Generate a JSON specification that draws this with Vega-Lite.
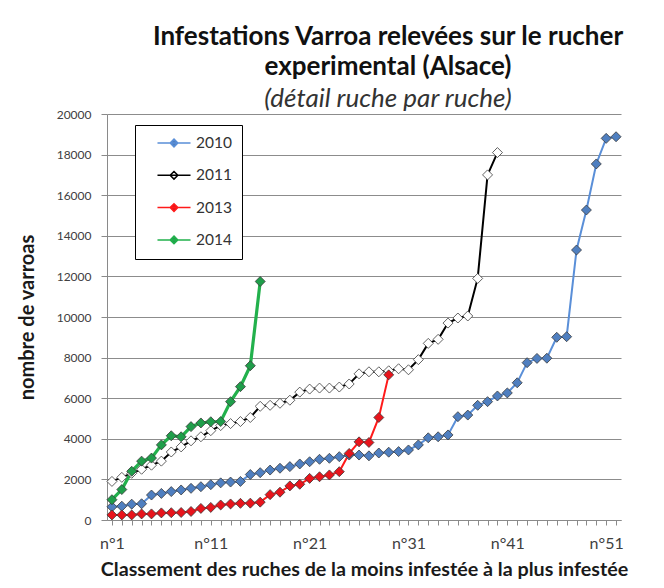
{
  "$schema": "https://vega.github.io/schema/vega-lite/v6.json",
  "width": 514,
  "height": 406,
  "autosize": {"type": "none"},
  "padding": {"left": 107, "top": 114, "right": 43, "bottom": 68},
  "background": "white",
  "config": {
    "view": {"stroke": null},
    "font": "Lato"
  },
  "title": {
    "text": ["Infestations Varroa relevées sur le rucher", "experimental (Alsace)"],
    "subtitle": "(détail ruche par ruche)",
    "font": "Lato",
    "fontSize": 26,
    "fontWeight": "bold",
    "color": "#111111",
    "lineHeight": 30,
    "subtitleFont": "Lato",
    "subtitleFontSize": 26,
    "subtitleFontStyle": "italic",
    "subtitleColor": "#333333",
    "subtitlePadding": 6,
    "anchor": "middle",
    "dx": 24,
    "offset": -4
  },
  "data": {
    "values": [
      {"annee":"2010","ruche":1,"varroas":650},{"annee":"2010","ruche":2,"varroas":680},{"annee":"2010","ruche":3,"varroas":780},{"annee":"2010","ruche":4,"varroas":800},{"annee":"2010","ruche":5,"varroas":1230},{"annee":"2010","ruche":6,"varroas":1310},{"annee":"2010","ruche":7,"varroas":1400},{"annee":"2010","ruche":8,"varroas":1480},{"annee":"2010","ruche":9,"varroas":1560},{"annee":"2010","ruche":10,"varroas":1640},
      {"annee":"2010","ruche":11,"varroas":1740},{"annee":"2010","ruche":12,"varroas":1830},{"annee":"2010","ruche":13,"varroas":1870},{"annee":"2010","ruche":14,"varroas":1900},{"annee":"2010","ruche":15,"varroas":2240},{"annee":"2010","ruche":16,"varroas":2330},{"annee":"2010","ruche":17,"varroas":2460},{"annee":"2010","ruche":18,"varroas":2550},{"annee":"2010","ruche":19,"varroas":2630},{"annee":"2010","ruche":20,"varroas":2760},
      {"annee":"2010","ruche":21,"varroas":2870},{"annee":"2010","ruche":22,"varroas":2990},{"annee":"2010","ruche":23,"varroas":3040},{"annee":"2010","ruche":24,"varroas":3120},{"annee":"2010","ruche":25,"varroas":3200},{"annee":"2010","ruche":26,"varroas":3200},{"annee":"2010","ruche":27,"varroas":3160},{"annee":"2010","ruche":28,"varroas":3300},{"annee":"2010","ruche":29,"varroas":3340},{"annee":"2010","ruche":30,"varroas":3370},
      {"annee":"2010","ruche":31,"varroas":3450},{"annee":"2010","ruche":32,"varroas":3700},{"annee":"2010","ruche":33,"varroas":4050},{"annee":"2010","ruche":34,"varroas":4100},{"annee":"2010","ruche":35,"varroas":4190},{"annee":"2010","ruche":36,"varroas":5090},{"annee":"2010","ruche":37,"varroas":5170},{"annee":"2010","ruche":38,"varroas":5650},{"annee":"2010","ruche":39,"varroas":5830},{"annee":"2010","ruche":40,"varroas":6110},
      {"annee":"2010","ruche":41,"varroas":6260},{"annee":"2010","ruche":42,"varroas":6760},{"annee":"2010","ruche":43,"varroas":7750},{"annee":"2010","ruche":44,"varroas":7960},{"annee":"2010","ruche":45,"varroas":7970},{"annee":"2010","ruche":46,"varroas":9000},{"annee":"2010","ruche":47,"varroas":9030},{"annee":"2010","ruche":48,"varroas":13300},{"annee":"2010","ruche":49,"varroas":15270},{"annee":"2010","ruche":50,"varroas":17540},
      {"annee":"2010","ruche":51,"varroas":18800},{"annee":"2010","ruche":52,"varroas":18880},
      {"annee":"2011","ruche":1,"varroas":1900},{"annee":"2011","ruche":2,"varroas":2100},{"annee":"2011","ruche":3,"varroas":2300},{"annee":"2011","ruche":4,"varroas":2500},{"annee":"2011","ruche":5,"varroas":2700},{"annee":"2011","ruche":6,"varroas":2900},{"annee":"2011","ruche":7,"varroas":3350},{"annee":"2011","ruche":8,"varroas":3600},{"annee":"2011","ruche":9,"varroas":3900},{"annee":"2011","ruche":10,"varroas":4100},
      {"annee":"2011","ruche":11,"varroas":4400},{"annee":"2011","ruche":12,"varroas":4650},{"annee":"2011","ruche":13,"varroas":4750},{"annee":"2011","ruche":14,"varroas":4850},{"annee":"2011","ruche":15,"varroas":5050},{"annee":"2011","ruche":16,"varroas":5600},{"annee":"2011","ruche":17,"varroas":5650},{"annee":"2011","ruche":18,"varroas":5750},{"annee":"2011","ruche":19,"varroas":5900},{"annee":"2011","ruche":20,"varroas":6300},
      {"annee":"2011","ruche":21,"varroas":6450},{"annee":"2011","ruche":22,"varroas":6500},{"annee":"2011","ruche":23,"varroas":6500},{"annee":"2011","ruche":24,"varroas":6550},{"annee":"2011","ruche":25,"varroas":6700},{"annee":"2011","ruche":26,"varroas":7200},{"annee":"2011","ruche":27,"varroas":7300},{"annee":"2011","ruche":28,"varroas":7300},{"annee":"2011","ruche":29,"varroas":7350},{"annee":"2011","ruche":30,"varroas":7450},
      {"annee":"2011","ruche":31,"varroas":7400},{"annee":"2011","ruche":32,"varroas":7900},{"annee":"2011","ruche":33,"varroas":8700},{"annee":"2011","ruche":34,"varroas":8900},{"annee":"2011","ruche":35,"varroas":9700},{"annee":"2011","ruche":36,"varroas":9950},{"annee":"2011","ruche":37,"varroas":10050},{"annee":"2011","ruche":38,"varroas":11900},{"annee":"2011","ruche":39,"varroas":17000},{"annee":"2011","ruche":40,"varroas":18100},
      {"annee":"2013","ruche":1,"varroas":250},{"annee":"2013","ruche":2,"varroas":250},{"annee":"2013","ruche":3,"varroas":250},{"annee":"2013","ruche":4,"varroas":300},{"annee":"2013","ruche":5,"varroas":300},{"annee":"2013","ruche":6,"varroas":350},{"annee":"2013","ruche":7,"varroas":360},{"annee":"2013","ruche":8,"varroas":370},{"annee":"2013","ruche":9,"varroas":420},{"annee":"2013","ruche":10,"varroas":570},
      {"annee":"2013","ruche":11,"varroas":620},{"annee":"2013","ruche":12,"varroas":740},{"annee":"2013","ruche":13,"varroas":790},{"annee":"2013","ruche":14,"varroas":820},{"annee":"2013","ruche":15,"varroas":830},{"annee":"2013","ruche":16,"varroas":880},{"annee":"2013","ruche":17,"varroas":1250},{"annee":"2013","ruche":18,"varroas":1370},{"annee":"2013","ruche":19,"varroas":1680},{"annee":"2013","ruche":20,"varroas":1760},
      {"annee":"2013","ruche":21,"varroas":2050},{"annee":"2013","ruche":22,"varroas":2130},{"annee":"2013","ruche":23,"varroas":2220},{"annee":"2013","ruche":24,"varroas":2380},{"annee":"2013","ruche":25,"varroas":3280},{"annee":"2013","ruche":26,"varroas":3850},{"annee":"2013","ruche":27,"varroas":3820},{"annee":"2013","ruche":28,"varroas":5050},{"annee":"2013","ruche":29,"varroas":7150},
      {"annee":"2014","ruche":1,"varroas":1000},{"annee":"2014","ruche":2,"varroas":1500},{"annee":"2014","ruche":3,"varroas":2400},{"annee":"2014","ruche":4,"varroas":2900},{"annee":"2014","ruche":5,"varroas":3050},{"annee":"2014","ruche":6,"varroas":3700},{"annee":"2014","ruche":7,"varroas":4150},{"annee":"2014","ruche":8,"varroas":4100},{"annee":"2014","ruche":9,"varroas":4600},{"annee":"2014","ruche":10,"varroas":4780},
      {"annee":"2014","ruche":11,"varroas":4840},{"annee":"2014","ruche":12,"varroas":4850},{"annee":"2014","ruche":13,"varroas":5830},{"annee":"2014","ruche":14,"varroas":6570},{"annee":"2014","ruche":15,"varroas":7600},{"annee":"2014","ruche":16,"varroas":11750}
    ]
  },
  "encoding": {
    "x": {
      "field": "ruche",
      "type": "quantitative",
      "scale": {"domain": [0.5, 52.5], "nice": false, "zero": false},
      "axis": {
        "title": "Classement des ruches de la moins infestée à la plus infestée",
        "titleFont": "Lato",
        "titleFontSize": 19.7,
        "titleFontWeight": "bold",
        "titleColor": "#1a1a1a",
        "titleY": 49,
        "titleBaseline": "middle",
        "values": [1,2,3,4,5,6,7,8,9,10,11,12,13,14,15,16,17,18,19,20,21,22,23,24,25,26,27,28,29,30,31,32,33,34,35,36,37,38,39,40,41,42,43,44,45,46,47,48,49,50,51,52],
        "labelExpr": "(datum.value - 1) % 10 == 0 ? 'n°' + datum.value : ''",
        "labelOverlap": false,
        "labelFlush": false,
        "labelFont": "Lato",
        "labelFontSize": 16,
        "labelColor": "#404040",
        "labelPadding": 10,
        "tickSize": 5,
        "tickColor": "#8a8a8a",
        "domainColor": "#8a8a8a",
        "grid": false
      }
    },
    "y": {
      "field": "varroas",
      "type": "quantitative",
      "scale": {"domain": [0, 20000], "nice": false},
      "axis": {
        "title": "nombre de varroas",
        "titleFont": "Lato",
        "titleFontSize": 20,
        "titleFontWeight": "bold",
        "titleColor": "#1a1a1a",
        "titleX": -80,
        "titleY": 203,
        "titleBaseline": "middle",
        "titleAlign": "center",
        "values": [0,2000,4000,6000,8000,10000,12000,14000,16000,18000,20000],
        "format": "d",
        "labelFont": "Lato",
        "labelFontSize": 12,
        "labelColor": "#404040",
        "labelPadding": 10,
        "tickSize": 6,
        "tickColor": "#8a8a8a",
        "domainColor": "#8a8a8a",
        "grid": true,
        "gridColor": "#8c8c8c",
        "gridWidth": 1.2
      }
    }
  },
  "layer": [
    {
      "transform": [{"filter": "datum.annee != '2014'"}],
      "mark": {"type": "line", "strokeWidth": 2},
      "encoding": {
        "stroke": {
          "field": "annee",
          "type": "nominal",
          "scale": {"domain": ["2010","2011","2013","2014"], "range": ["#5a8fd8","#000000","#ff1a1a","#22b14c"]},
          "legend": {
            "title": null,
            "orient": "none",
            "legendX": 28,
            "legendY": 11,
            "padding": 10,
            "strokeColor": "#000000",
            "fillColor": "#ffffff",
            "symbolType": "M-2.36,0L2.36,0M0,-0.55L0.55,0L0,0.55L-0.55,0Z",
            "symbolSize": 196,
            "symbolOffset": 21,
            "labelOffset": 14,
            "labelFont": "Lato",
            "labelFontSize": 15.5,
            "labelColor": "#333333",
            "labelExpr": "datum.label + '\u00a0\u00a0\u00a0'",
            "rowPadding": 15.3
          }
        }
      }
    },
    {
      "transform": [{"filter": "datum.annee == '2014'"}],
      "mark": {"type": "line", "strokeWidth": 3.2},
      "encoding": {
        "stroke": {"field": "annee", "type": "nominal"}
      }
    },
    {
      "mark": {"type": "point", "shape": "diamond", "filled": true, "size": 100, "stroke": "#3a3a3a", "strokeWidth": 0.8, "opacity": 1},
      "encoding": {
        "fill": {
          "field": "annee",
          "type": "nominal",
          "scale": {"domain": ["2010","2011","2013","2014"], "range": ["#4f7fc0","#ffffff","#e8141c","#1f9e4a"]},
          "legend": null
        }
      }
    }
  ]
}
